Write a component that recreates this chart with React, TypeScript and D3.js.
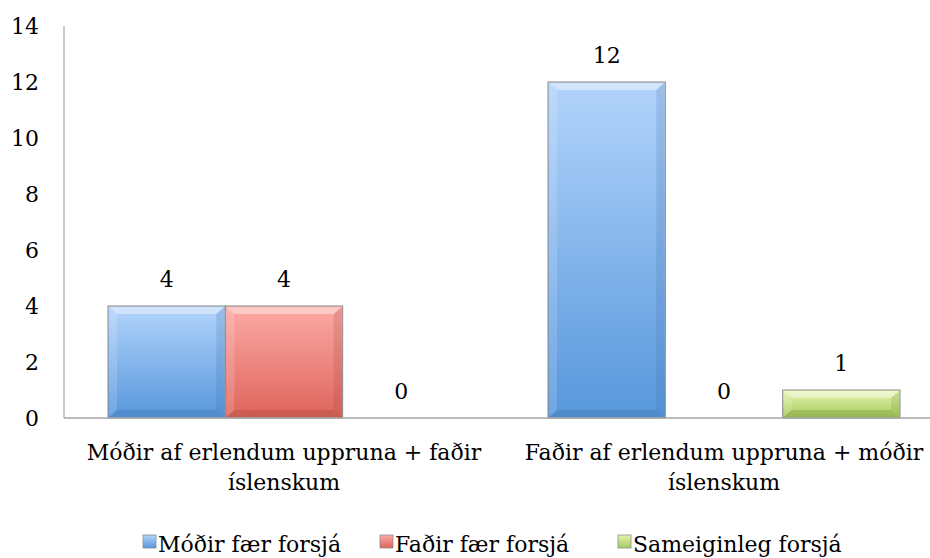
import { useEffect, useRef } from 'react';
import * as d3 from 'd3';

const categories = [
  ['Móðir af erlendum uppruna + faðir', 'íslenskum'],
  ['Faðir af erlendum uppruna + móðir', 'íslenskum'],
];
const seriesNames = ['Móðir fær forsjá', 'Faðir fær forsjá', 'Sameiginleg forsjá'];
const values = [
  [4, 4, 0],
  [12, 0, 1],
];
const yTicks = [0, 2, 4, 6, 8, 10, 12, 14];
const colors = [
  { top: '#b3d4fb', bottom: '#5797dc', edge: '#3f6fa8' },
  { top: '#fdaaa6', bottom: '#de645b', edge: '#a0463f' },
  { top: '#e6f5b0', bottom: '#a5c95a', edge: '#748f3a' },
];

const FONT = '"DejaVu Serif", "Liberation Serif", serif';
const FS = 22;

const App = () => {
  const svgRef = useRef<SVGSVGElement>(null);

  useEffect(() => {
    const svg = d3.select(svgRef.current);
    svg.selectAll('*').remove();
    const width = 930;
    const left = 64;
    const top = 26;
    const bottom = 418;

    const defs = svg.append('defs');
    colors.forEach((c, i) => {
      const g = defs.append('linearGradient')
        .attr('id', `grad${i}`)
        .attr('x1', 0).attr('y1', 0).attr('x2', 0).attr('y2', 1);
      g.append('stop').attr('offset', '0%').attr('stop-color', c.top);
      g.append('stop').attr('offset', '100%').attr('stop-color', c.bottom);
    });

    // category step 440, bars ~117.5 wide, gap 75%
    const x0 = d3.scaleBand<number>()
      .domain(d3.range(categories.length))
      .range([left, left + 880]);
    const x1 = d3.scaleBand<number>()
      .domain(d3.range(seriesNames.length))
      .range([0, x0.bandwidth() * 0.8]);

    const y = d3.scaleLinear().domain([0, 14]).range([bottom, top]);

    svg.append('line')
      .attr('x1', left).attr('x2', left)
      .attr('y1', y(14)).attr('y2', y(0))
      .attr('stroke', '#a6a6a6').attr('stroke-width', 1.2);

    svg.append('g')
      .selectAll('text')
      .data(yTicks)
      .join('text')
      .attr('x', 39)
      .attr('y', d => y(d))
      .attr('dy', '0.38em')
      .attr('text-anchor', 'end')
      .attr('font-family', FONT)
      .attr('font-size', FS)
      .attr('fill', '#000')
      .text(d => d);

    values.forEach((row, ci) => {
      const gx = x0(ci)! + x0.bandwidth() * 0.1;
      row.forEach((v, si) => {
        const bx = gx + x1(si)!;
        const bw = x1.bandwidth();
        if (v > 0) {
          const yt = y(v);
          const yb = y(0);
          const b = Math.min(8, (yb - yt) / 2);
          svg.append('rect')
            .attr('x', bx).attr('y', yt)
            .attr('width', bw).attr('height', yb - yt)
            .attr('fill', `url(#grad${si})`)
            .attr('stroke', '#8c8c8c').attr('stroke-width', 1);
          // bevel: light top, darker right/bottom
          svg.append('path')
            .attr('d', `M${bx + 1},${yt + 1} L${bx + bw - 1},${yt + 1} L${bx + bw - 1 - b},${yt + b} L${bx + 1 + b},${yt + b} Z`)
            .attr('fill', '#ffffff').attr('opacity', 0.4);
          svg.append('path')
            .attr('d', `M${bx + 1},${yt + 1} L${bx + 1 + b},${yt + b} L${bx + 1 + b},${yb - b} L${bx + 1},${yb - 1} Z`)
            .attr('fill', '#ffffff').attr('opacity', 0.15);
          svg.append('path')
            .attr('d', `M${bx + bw - 1},${yt + 1} L${bx + bw - 1},${yb - 1} L${bx + bw - 1 - b},${yb - b} L${bx + bw - 1 - b},${yt + b} Z`)
            .attr('fill', colors[si].edge).attr('opacity', 0.2);
          svg.append('path')
            .attr('d', `M${bx + 1},${yb - 1} L${bx + bw - 1},${yb - 1} L${bx + bw - 1 - b},${yb - b} L${bx + 1 + b},${yb - b} Z`)
            .attr('fill', colors[si].edge).attr('opacity', 0.3);
        }
        svg.append('text')
          .attr('x', bx + bw / 2)
          .attr('y', y(v) - 19)
          .attr('text-anchor', 'middle')
          .attr('font-family', FONT)
          .attr('font-size', FS)
          .attr('fill', '#000')
          .text(v);
      });
    });

    svg.append('line')
      .attr('x1', left).attr('x2', width)
      .attr('y1', y(0)).attr('y2', y(0))
      .attr('stroke', '#a6a6a6').attr('stroke-width', 1.5);

    categories.forEach((lines, ci) => {
      const cx = x0(ci)! + x0.bandwidth() / 2;
      lines.forEach((line, li) => {
        svg.append('text')
          .attr('x', cx)
          .attr('y', 460 + li * 30)
          .attr('text-anchor', 'middle')
          .attr('font-family', FONT)
          .attr('font-size', FS)
          .attr('fill', '#000')
          .text(line);
      });
    });

    const legendX = [143, 380, 618];
    seriesNames.forEach((name, i) => {
      svg.append('rect')
        .attr('x', legendX[i]).attr('y', 535)
        .attr('width', 13).attr('height', 13)
        .attr('fill', `url(#grad${i})`)
        .attr('stroke', '#8c8c8c').attr('stroke-width', 0.8);
      svg.append('text')
        .attr('x', legendX[i] + 15)
        .attr('y', 552)
        .attr('font-family', FONT)
        .attr('font-size', FS)
        .attr('fill', '#000')
        .text(name);
    });
  }, []);

  return (
    <svg ref={svgRef} width={930} height={558} viewBox="0 0 930 558"
      style={{ position: 'absolute', left: 0, top: 0, background: '#fff' }} />
  );
};

export default App;
